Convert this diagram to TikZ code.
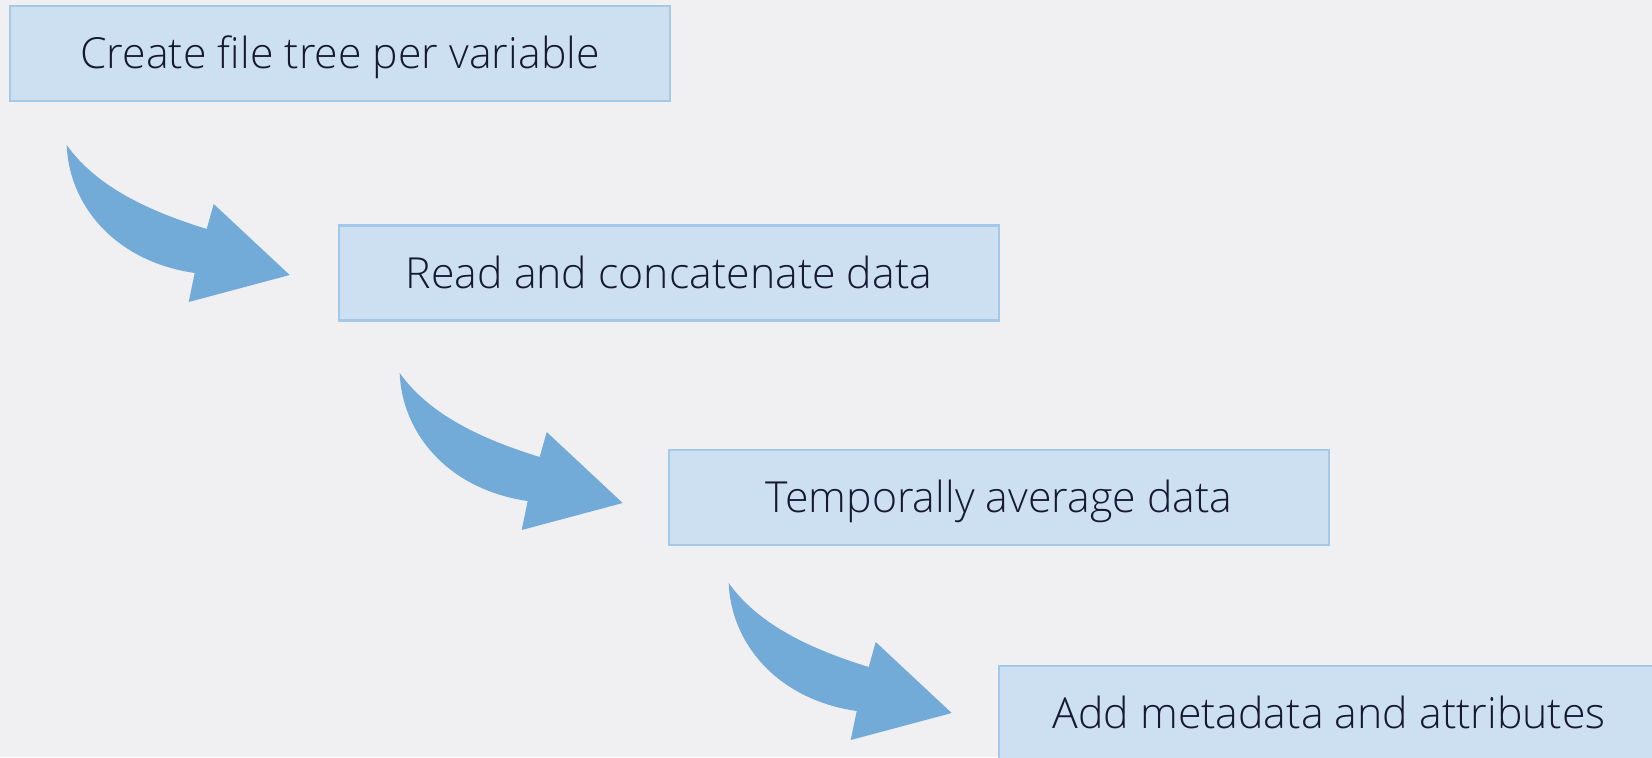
\documentclass[tikz,border=0pt]{standalone}
\usepackage{fontspec}
\setmainfont{Open Sans Light}
\definecolor{bgcol}{RGB}{240,240,242}
\definecolor{boxfill}{RGB}{204,224,241}
\definecolor{boxline}{RGB}{164,200,232}
\definecolor{arrowcol}{RGB}{114,170,216}
\definecolor{textcol}{RGB}{22,24,52}
\tikzset{
  stepbox/.style={draw=boxline, line width=1.2pt, fill=boxfill,
    minimum width=330pt, minimum height=47.5pt, inner sep=0pt,
    text height=20pt, text depth=5pt,
    text=textcol, font=\fontsize{21.4}{25}\selectfont},
  bentarrow/.pic={
    \fill[arrowcol] (0,0)
      .. controls (2,58) and (46,116) .. (128,128)
      -- (122,157) -- (223,130) -- (147,59) -- (140,84)
      .. controls (82,66) and (30,42) .. cycle;
  }
}
\begin{document}
\begin{tikzpicture}[x=0.5pt, y=-0.5pt]
  \useasboundingbox (0,0) rectangle (1652,757);
  \clip (0,0) rectangle (1652,757);
  \fill[bgcol] (0,0) rectangle (1652,757);

  % processing steps
  \node[stepbox] (create) at (340,53.5) {Create file tree per variable};
  \node[stepbox] (read)   at (669,273)  {Read and concatenate data};
  \node[stepbox] (avg)    at (999,497.5) {Temporally average data};
  \node[stepbox] (meta)   at (1329,713.5) {Add metadata and attributes};

  % curved arrows between the steps
  \pic at (66.7,145) {bentarrow};
  \pic at (399.7,373) {bentarrow};
  \pic at (728.7,583) {bentarrow};
\end{tikzpicture}
\end{document}
